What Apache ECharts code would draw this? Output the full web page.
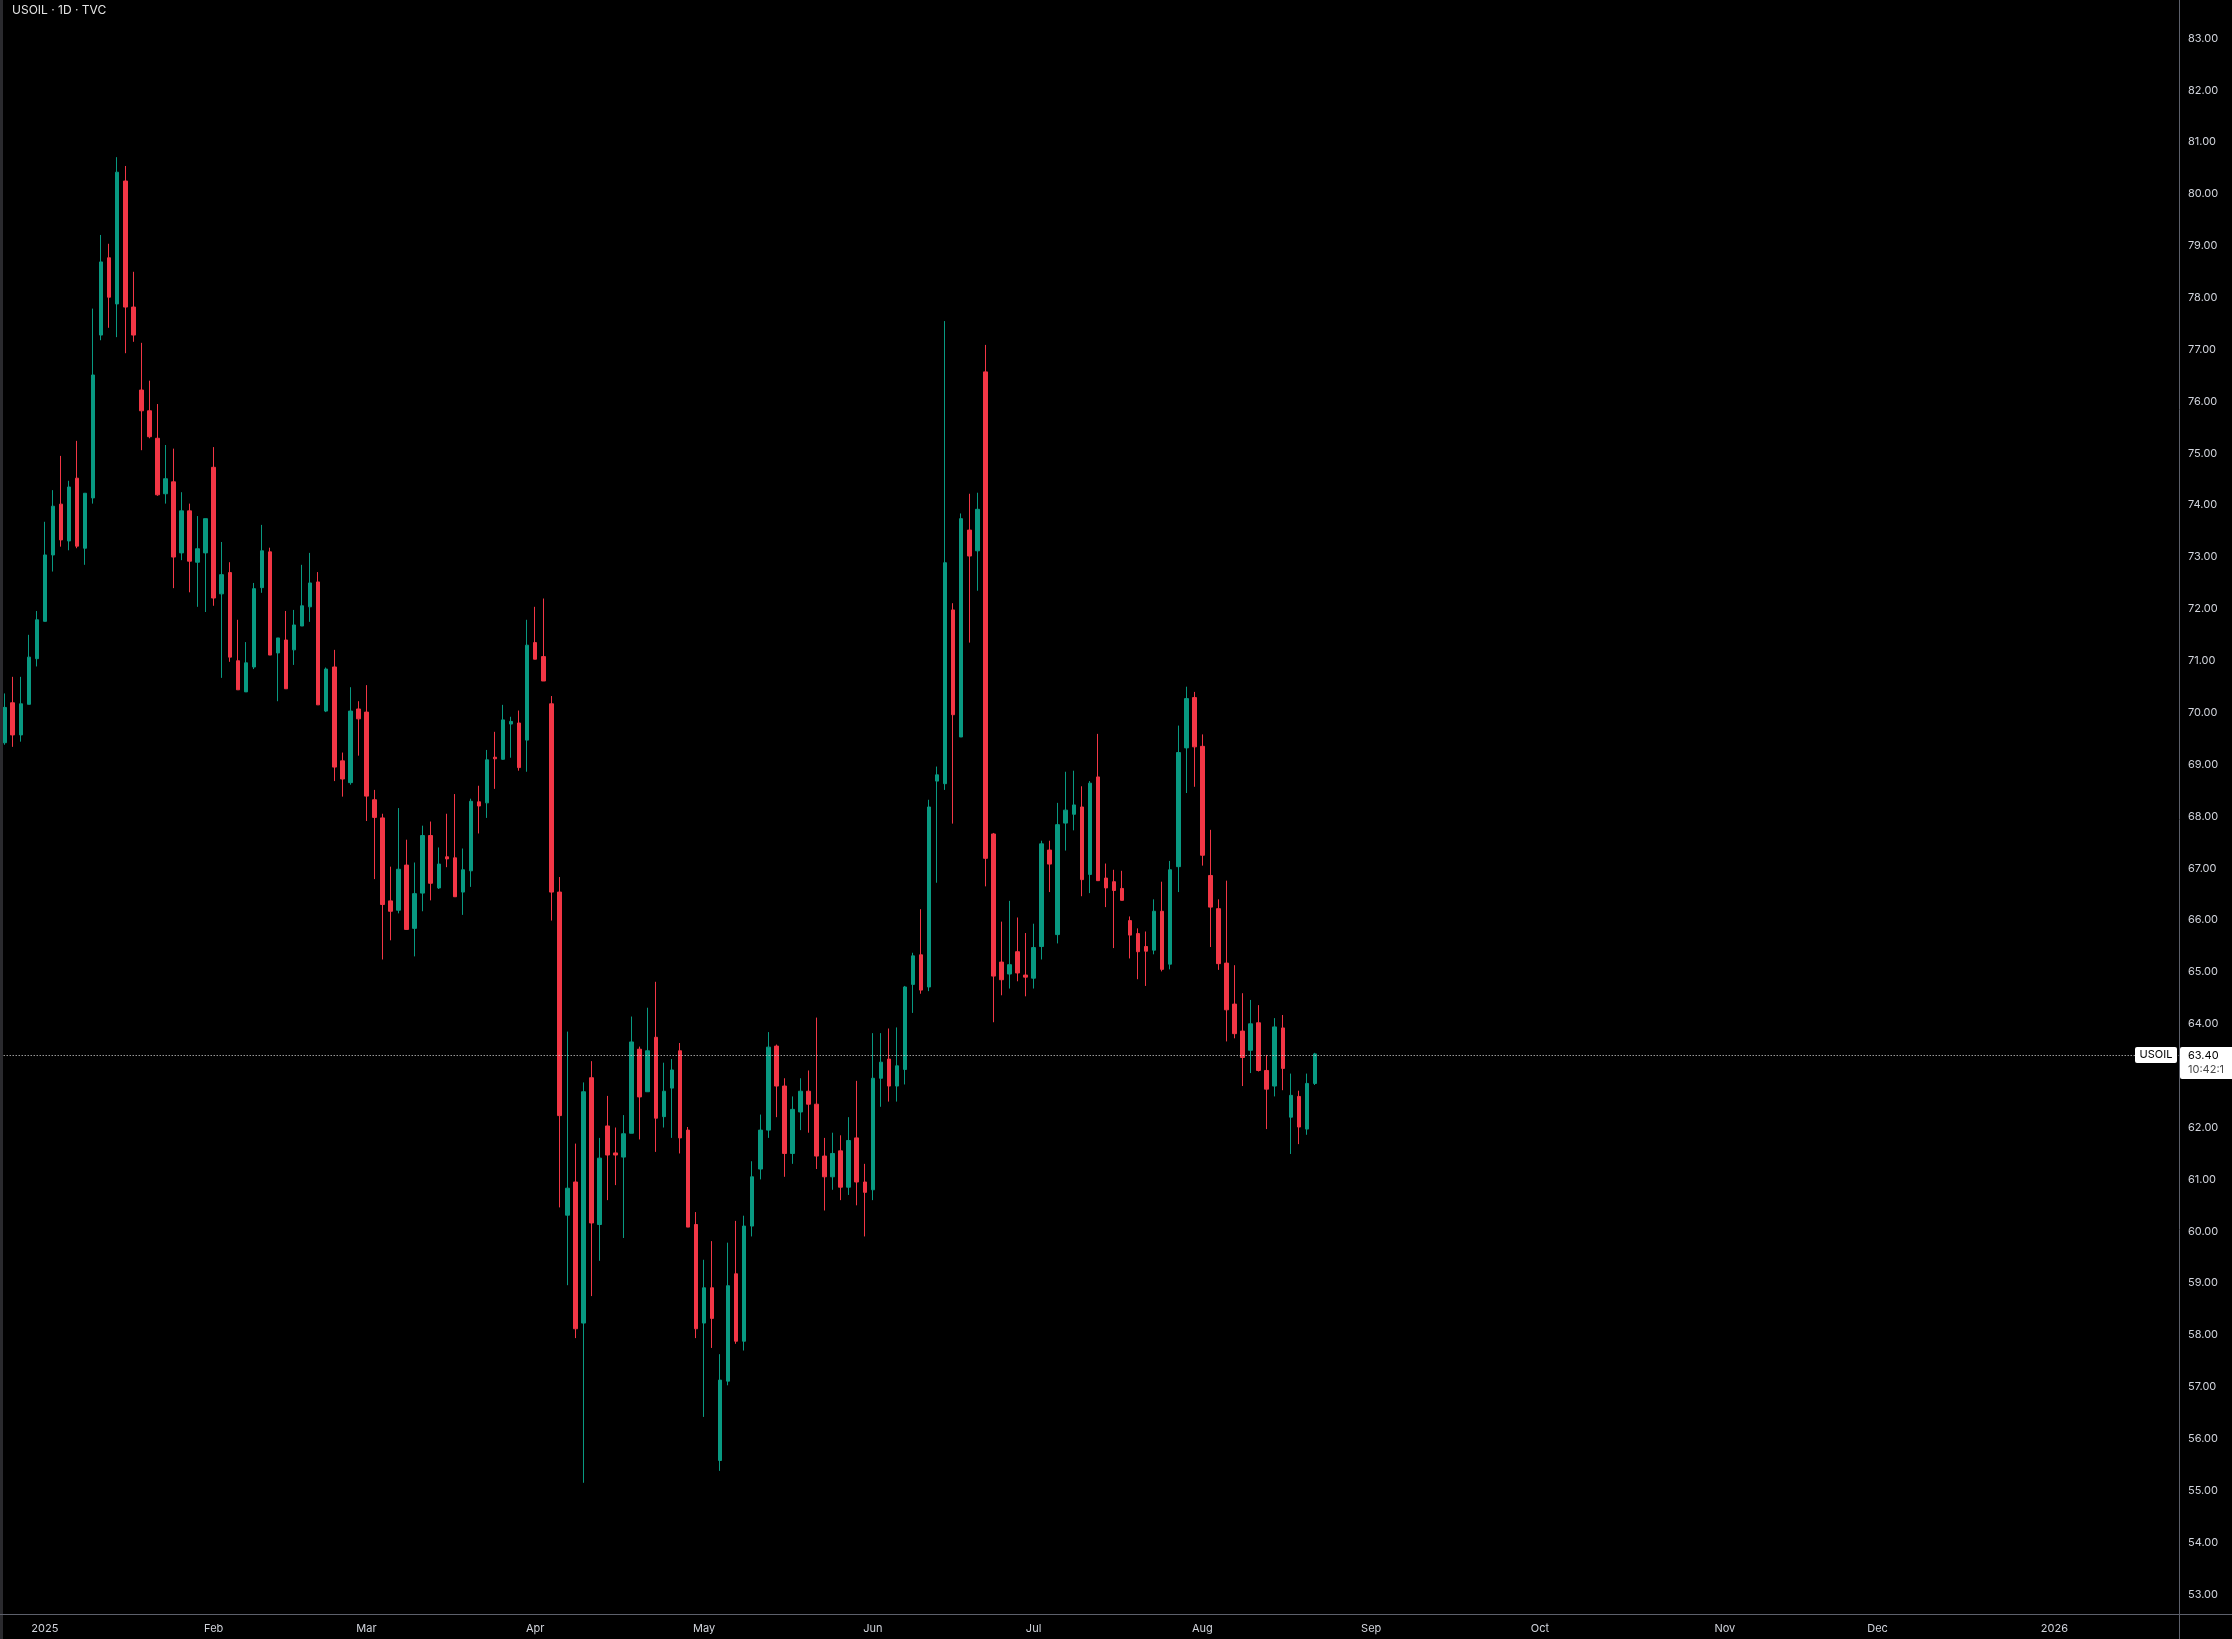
<!DOCTYPE html>
<html><head><meta charset="utf-8">
<script src="https://cdn.jsdelivr.net/npm/echarts@6/dist/echarts.min.js"></script>
<style>html,body{margin:0;padding:0;background:#000;}#c{width:2232px;height:1639px;}</style>
</head><body><div id="c"></div>
<script>
const symbolTitle = 'USOIL · 1D · TVC';
const symbolName = 'USOIL';
const countdown = '10:42:1';

const opens = [
69.42,70.19,69.57,70.16,71.04,71.76,73.04,74.02,73.31,74.52,
73.17,74.14,77.28,78.77,77.88,80.25,77.82,76.22,75.82,75.29,
74.22,74.45,73.08,73.89,72.90,73.08,74.73,72.29,72.70,71.00,
70.40,70.88,72.41,73.10,71.15,71.40,71.21,71.67,72.04,72.52,
70.03,70.88,69.07,68.65,70.07,70.01,68.32,67.97,66.37,66.19,
67.06,65.84,66.52,67.63,66.62,67.22,67.20,66.54,66.95,68.28,
68.26,69.14,69.10,69.78,69.80,69.47,71.35,71.08,70.17,66.54,
60.31,60.95,58.23,62.96,60.13,62.03,61.51,61.43,61.89,63.51,
62.69,63.74,62.21,62.76,63.48,61.95,60.13,58.23,58.91,55.58,
57.11,59.18,57.88,60.10,61.20,61.95,63.57,62.80,61.50,62.30,
62.70,62.45,61.45,61.05,61.55,60.85,61.80,60.95,60.80,62.95,
63.32,62.80,63.12,64.76,65.33,64.71,68.68,68.63,71.98,69.53,
73.52,73.12,76.57,67.66,65.19,64.96,65.39,64.94,64.88,65.49,
67.35,65.72,67.87,68.04,68.18,66.88,68.76,66.81,66.74,66.61,
65.99,65.74,65.49,65.42,66.17,65.15,67.03,69.32,70.29,69.35,
66.86,66.22,65.17,64.38,63.86,63.49,64.02,63.10,62.80,63.92,
62.20,62.60,61.97,62.85];
const closes = [
70.10,69.57,70.17,71.07,71.79,73.04,73.98,73.33,74.35,73.21,
74.23,76.51,78.69,78.01,80.42,77.82,77.28,75.82,75.32,74.20,
74.51,73.00,73.89,72.92,73.16,73.74,72.21,72.66,71.07,70.44,
70.96,72.39,73.12,71.11,71.44,70.46,71.69,72.06,72.50,70.15,
70.84,68.95,68.72,70.03,69.88,68.39,67.98,66.30,66.17,66.98,
65.82,66.51,67.63,66.71,67.08,67.18,66.45,66.97,68.29,68.20,
69.09,69.11,69.86,69.83,68.94,71.30,71.03,70.61,66.54,62.23,
60.83,58.12,62.69,60.16,61.41,61.47,61.47,61.88,63.65,62.59,
63.48,62.18,62.70,63.11,61.80,60.08,58.12,58.91,58.32,57.13,
58.95,57.88,60.10,61.05,61.95,63.55,62.80,61.50,62.35,62.70,
62.45,61.45,61.05,61.50,60.85,61.75,60.95,60.75,62.95,63.26,
62.80,63.19,64.71,65.31,64.65,68.18,68.80,72.89,69.96,73.74,
73.02,73.92,67.19,64.92,64.85,65.14,64.98,64.90,65.47,67.47,
67.08,67.84,68.12,68.22,66.78,68.64,66.76,66.62,66.57,66.38,
65.71,65.39,65.40,66.17,65.05,66.97,69.23,70.27,69.34,67.25,
66.25,65.16,64.27,63.81,63.35,64.00,63.10,62.74,63.94,63.14,
62.62,62.01,62.85,63.42];
const lows = [
69.38,69.34,69.44,70.16,70.89,71.76,72.72,73.20,73.13,73.17,
72.85,74.03,77.18,77.42,77.24,76.93,77.15,75.06,75.29,74.18,
74.03,72.40,72.94,72.32,72.04,71.94,72.06,70.67,70.98,70.44,
70.40,70.84,72.31,71.11,70.22,70.46,70.92,71.67,71.75,70.15,
70.01,68.68,68.38,68.61,69.17,67.91,66.79,65.24,65.61,66.13,
65.82,65.30,66.17,66.38,66.60,67.02,66.45,66.10,66.64,67.67,
67.97,68.53,69.09,69.13,68.88,68.86,71.03,70.61,65.99,60.46,
58.96,57.94,55.15,58.75,59.43,60.60,60.89,59.87,61.89,61.77,
62.69,61.53,62.00,61.80,61.50,60.08,57.94,56.42,57.75,55.38,
57.03,57.83,57.70,59.90,61.00,61.80,62.20,61.05,61.30,61.95,
61.90,61.20,60.40,60.80,60.60,60.70,60.50,59.90,60.60,62.40,
62.50,62.50,62.83,64.21,64.58,64.63,66.72,68.51,67.86,69.53,
71.35,72.35,66.65,64.03,64.55,64.68,64.82,64.53,64.68,65.24,
66.54,65.55,67.34,67.73,66.46,66.52,66.76,66.25,65.46,66.38,
65.26,64.86,64.73,65.34,65.01,65.05,66.54,68.45,68.57,67.05,
65.48,65.04,63.66,63.72,62.80,63.05,63.08,61.97,62.60,62.72,
61.49,61.68,61.86,62.82];
const highs = [
70.37,70.69,70.69,71.50,71.96,73.68,74.29,74.95,74.47,75.24,
74.23,77.79,79.21,79.04,80.71,80.54,78.50,77.13,76.40,75.95,
75.16,75.09,74.25,74.03,73.79,73.74,75.12,73.29,72.90,71.79,
71.36,72.50,73.62,73.18,71.44,71.96,71.98,72.85,73.08,72.71,
70.87,71.21,69.23,70.49,70.22,70.53,68.51,68.05,67.03,68.16,
67.55,67.11,67.82,67.90,67.40,68.05,68.43,67.38,68.34,68.59,
69.28,69.63,70.15,69.92,70.04,71.79,72.04,72.20,70.32,66.83,
63.85,61.69,62.87,63.28,61.80,62.61,62.00,62.24,64.14,63.56,
64.31,64.81,63.25,63.32,63.63,62.01,60.37,59.45,59.81,57.63,
59.78,60.20,60.30,61.35,62.25,63.84,63.60,62.95,62.60,62.95,
63.10,64.12,61.80,61.90,61.85,62.20,62.90,61.30,63.82,63.82,
63.91,63.93,64.73,65.37,66.21,68.32,68.96,77.55,72.11,73.84,
74.22,74.24,77.09,67.68,65.97,66.37,66.05,65.75,65.93,67.53,
67.53,68.26,68.86,68.88,68.58,68.68,69.59,67.09,66.97,66.95,
66.07,65.84,65.78,66.40,66.74,67.14,69.75,70.50,70.40,69.58,
67.74,66.40,66.76,65.13,64.59,64.46,64.36,63.40,64.11,64.17,
63.04,62.71,63.04,63.44];

const totalBars = 271;
const monthTickIndex = [5,26,45,66,87,108,128,149,170,191,214,233,255];
const monthTickLabel = ['2025','Feb','Mar','Apr','May','Jun','Jul','Aug','Sep','Oct','Nov','Dec','2026'];
const priceMin = 53, priceMax = 83, priceStep = 1;
const lastPrice = 63.40;

const UP = '#089981', DOWN = '#F23645';
const TEXT = '#d1d4dc';
const FONT = 'Inter, "Noto Sans", sans-serif';
const W = 2232, H = 1639;
const gridLeft = 0.68, gridRight = 53, gridTop = 38.4, gridBottom = 44.7;
const axisX = W - gridRight;
const baseLineY = 1614.5;

const categories = Array.from({length: totalBars}, (_, i) => String(i));
const candleData = opens.map((o, i) => [o, closes[i], lows[i], highs[i]]);

const chart = echarts.init(document.getElementById('c'), null, {renderer: 'canvas'});
chart.setOption({
  backgroundColor: '#000000',
  animation: false,
  title: {
    text: symbolTitle, left: 12, top: 4, padding: 0,
    textStyle: {color: '#e6e6e6', fontSize: 12, fontWeight: 'normal', fontFamily: FONT}
  },
  grid: {left: gridLeft, right: gridRight, top: gridTop, bottom: gridBottom, containLabel: false},
  xAxis: {
    type: 'category', data: categories, boundaryGap: true,
    offset: baseLineY - (H - gridBottom),
    axisLine: {show: false}, axisTick: {show: false}, splitLine: {show: false},
    axisLabel: {
      color: TEXT, fontSize: 11, fontFamily: FONT, margin: 9,
      interval: (idx) => monthTickIndex.indexOf(idx) >= 0,
      formatter: (val) => { const k = monthTickIndex.indexOf(Number(val)); return k >= 0 ? monthTickLabel[k] : ''; }
    }
  },
  yAxis: {
    type: 'value', position: 'right', min: priceMin, max: priceMax, interval: priceStep,
    axisLine: {show: false}, axisTick: {show: false}, splitLine: {show: false},
    axisLabel: {color: TEXT, fontSize: 11, fontFamily: FONT, margin: 9, formatter: (v) => v.toFixed(2)}
  },
  series: [{
    type: 'candlestick', data: candleData, barWidth: 4,
    itemStyle: {color: UP, color0: DOWN, borderColor: UP, borderColor0: DOWN, borderWidth: 1},
    markLine: {
      silent: true, symbol: 'none', animation: false,
      label: {show: false},
      lineStyle: {color: '#e0e0e0', width: 1, type: [1, 2]},
      data: [{yAxis: lastPrice}]
    }
  }]
});

const py = Math.round(chart.convertToPixel({yAxisIndex: 0}, lastPrice));
chart.setOption({
  graphic: [
    {type: 'rect', z: 100, shape: {x: 0, y: 0, width: 3, height: H}, style: {fill: '#2a2a2e'}},
    {type: 'line', z: 100, shape: {x1: axisX + 0.5, y1: 0, x2: axisX + 0.5, y2: H}, style: {stroke: '#5d606b', lineWidth: 1}},
    {type: 'line', z: 100, shape: {x1: 0, y1: baseLineY, x2: W, y2: baseLineY}, style: {stroke: '#5d606b', lineWidth: 1}},
    {type: 'rect', z: 101, shape: {x: axisX - 44, y: py - 8, width: 42, height: 16, r: 2}, style: {fill: '#ffffff'}},
    {type: 'text', z: 102, x: axisX - 23, y: py, style: {text: symbolName, fill: '#000000', font: '11px ' + FONT, align: 'center', verticalAlign: 'middle'}},
    {type: 'rect', z: 101, shape: {x: axisX + 1, y: py - 8, width: 60, height: 32, r: 2}, style: {fill: '#ffffff'}},
    {type: 'text', z: 102, x: axisX + 9, y: py + 1, style: {text: lastPrice.toFixed(2), fill: '#000000', font: '11px ' + FONT, align: 'left', verticalAlign: 'middle'}},
    {type: 'text', z: 102, x: axisX + 9, y: py + 15, style: {text: countdown, fill: '#4a4a4a', font: '11px ' + FONT, align: 'left', verticalAlign: 'middle'}}
  ]
});
</script></body></html>
